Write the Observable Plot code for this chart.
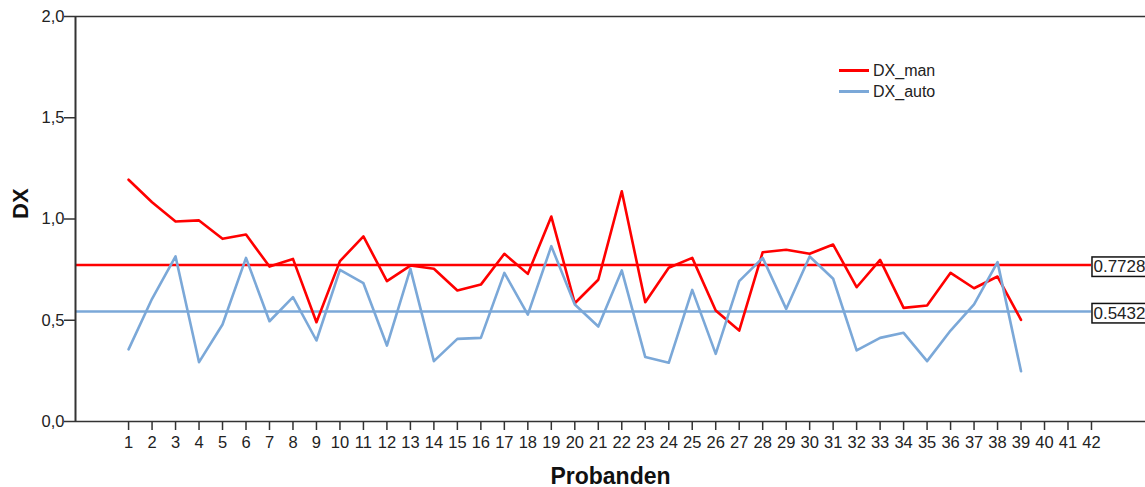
<!DOCTYPE html>
<html><head><meta charset="utf-8">
<script src="https://cdn.jsdelivr.net/npm/d3@7"></script>
<script src="https://cdn.jsdelivr.net/npm/@observablehq/plot@0.6"></script>
<style>
body{margin:0;background:#fff;font-family:"Liberation Sans",Arial,sans-serif;}
#wrap{position:relative;width:1145px;height:487px;overflow:hidden;background:#fff}
#wrap svg g[aria-label$="tick label"] text{font-size:16.5px}
.legend{position:absolute;left:839px;top:60px;font-size:16px;color:#222;line-height:21px}
.legend .row{display:flex;align-items:center}
.legend .sw{display:inline-block;width:30px;height:3px;margin-right:4px}
</style></head><body><div id="wrap"></div>
<script>
const probanden = [1,2,3,4,5,6,7,8,9,10,11,12,13,14,15,16,17,18,19,20,21,22,23,24,25,26,27,28,29,30,31,32,33,34,35,36,37,38,39];
const dxMan = [1.194,1.083,0.988,0.993,0.902,0.923,0.765,0.803,0.490,0.792,0.914,0.693,0.770,0.754,0.647,0.676,0.828,0.729,1.012,0.584,0.700,1.137,0.589,0.759,0.808,0.548,0.449,0.836,0.848,0.828,0.874,0.663,0.798,0.561,0.573,0.734,0.658,0.716,0.502];
const dxAuto = [0.356,0.606,0.815,0.293,0.479,0.808,0.495,0.614,0.400,0.749,0.683,0.375,0.754,0.298,0.408,0.413,0.734,0.528,0.866,0.578,0.469,0.746,0.318,0.290,0.650,0.334,0.693,0.808,0.556,0.815,0.705,0.351,0.413,0.438,0.298,0.449,0.578,0.787,0.248];
const seriesNames = ["DX_man","DX_auto"];
const seriesColors = ["#ff0000","#7ba8d8"];
const refValues = [0.7728,0.5432];
const refLabels = ["0.7728","0.5432"];
const xTicks = [1,2,3,4,5,6,7,8,9,10,11,12,13,14,15,16,17,18,19,20,21,22,23,24,25,26,27,28,29,30,31,32,33,34,35,36,37,38,39,40,41,42];
const yTicks = [0,0.5,1,1.5,2];
const xLabel = "Probanden";
const yLabel = "DX";

const rows = [];
probanden.forEach((p,i)=>{
  rows.push({p, v: dxMan[i], s: seriesNames[0]});
  rows.push({p, v: dxAuto[i], s: seriesNames[1]});
});
const refs = refValues.map((v,i)=>({v, label: refLabels[i], s: seriesNames[i]}));
const xMin = -1.26, xMax = 44.3, lastTick = 42;

const chart = Plot.plot({
  width: 1145, height: 487,
  marginLeft: 75, marginRight: 0, marginTop: 16, marginBottom: 66,
  style: {fontFamily: '"Liberation Sans", Arial, sans-serif', fontSize: "16px", color: "#222", background: "#fff"},
  x: {domain: [xMin, xMax]},
  y: {domain: [0, 2]},
  color: {domain: seriesNames, range: seriesColors},
  marks: [
    Plot.ruleY(refs, {y: "v", x1: xMin, x2: lastTick, stroke: "s", strokeWidth: 2.5}),
    Plot.line(rows, {x: "p", y: "v", z: "s", stroke: "s", strokeWidth: 2.6, strokeLinejoin: "round"}),
    Plot.text(refs, {x: lastTick, y: "v", text: "label", textAnchor: "start", dx: 2, dy: 2, fontSize: 17, fill: "#222"}),
    Plot.axisX({ticks: xTicks, tickSize: 9, tickPadding: 6, tickFormat: d => String(d), label: null, fontSize: 16.5, stroke: "#333", strokeWidth: 1.5}),
    Plot.axisY({ticks: yTicks, tickSize: 11, tickPadding: 0, tickFormat: d => d.toFixed(1).replace(".", ","), label: null, fontSize: 16.5, stroke: "#333", strokeWidth: 1.5}),
    Plot.ruleY([0], {stroke: "#333", strokeWidth: 1.5}),
    Plot.ruleY([2], {stroke: "#333", strokeWidth: 1.5}),
    Plot.ruleX([xMin], {stroke: "#333", strokeWidth: 2}),
    Plot.text([xLabel], {frameAnchor: "bottom", dy: 62, fontSize: 23, fontWeight: "bold", fill: "#111"}),
    Plot.text([yLabel], {frameAnchor: "left", dx: -55, rotate: -90, fontSize: 22, fontWeight: "bold", fill: "#111"})
  ]
});
const wrap = document.getElementById("wrap");
wrap.appendChild(chart);

// boxes around reference labels
chart.querySelectorAll("text").forEach(t => {
  if (refLabels.includes(t.textContent)) {
    const b = t.getBBox();
    const r = document.createElementNS("http://www.w3.org/2000/svg", "rect");
    r.setAttribute("x", b.x - 1.5);
    r.setAttribute("y", b.y - 0.5);
    r.setAttribute("width", b.width + 4);
    r.setAttribute("height", b.height + 0.5);
    r.setAttribute("fill", "#fff");
    r.setAttribute("stroke", "#111");
    r.setAttribute("stroke-width", "1.5");
    if (t.getAttribute("transform")) r.setAttribute("transform", t.getAttribute("transform"));
    t.parentNode.insertBefore(r, t);
  }
});

// legend
const leg = document.createElement("div");
leg.className = "legend";
seriesNames.forEach((n,i)=>{
  const row = document.createElement("div");
  row.className = "row";
  row.innerHTML = `<span class="sw" style="background:${seriesColors[i]}"></span><span>${n}</span>`;
  leg.appendChild(row);
});
wrap.appendChild(leg);
</script></body></html>
